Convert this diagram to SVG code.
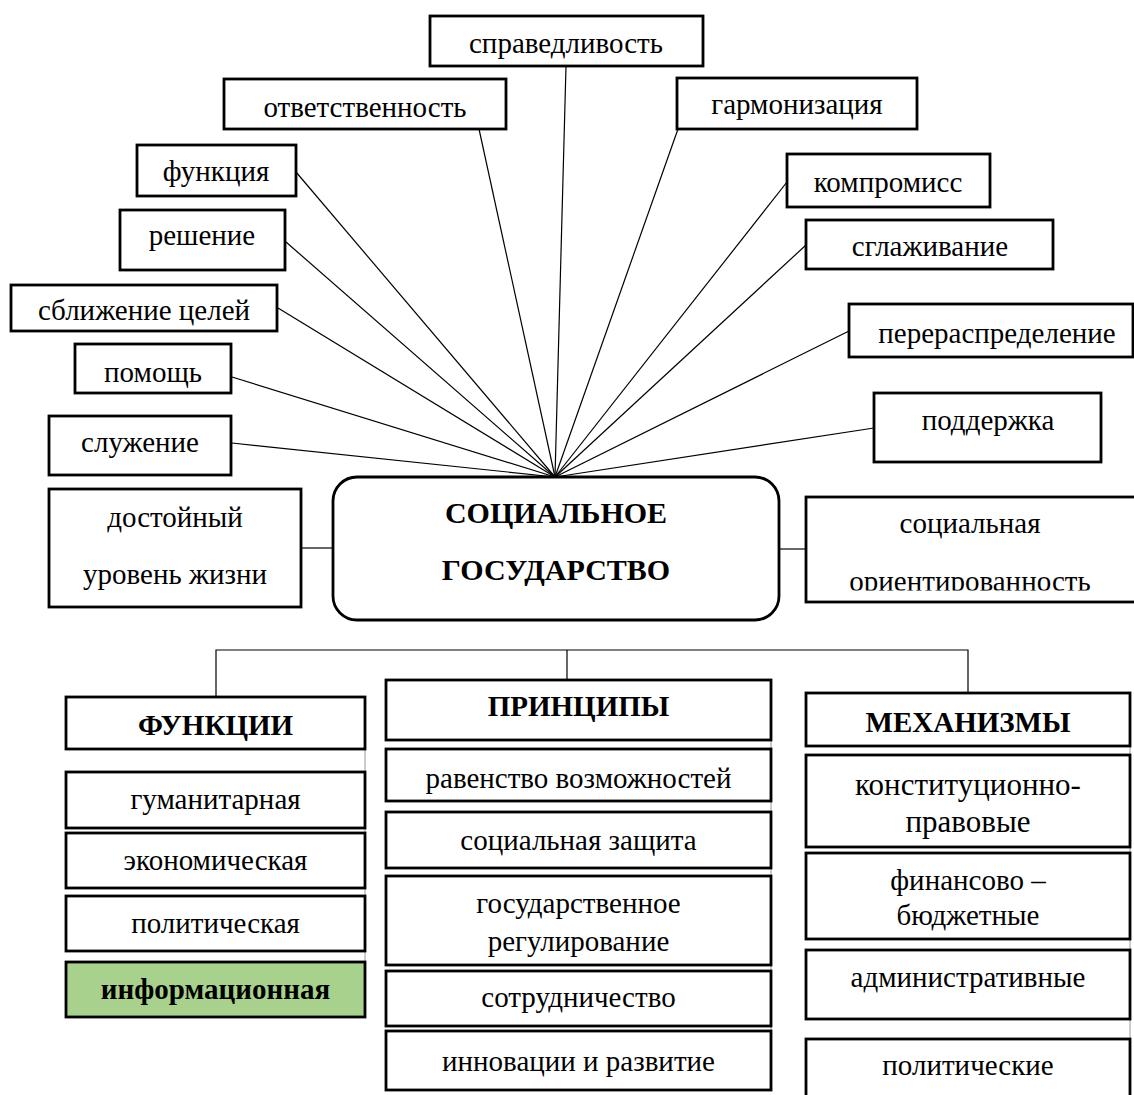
<svg xmlns="http://www.w3.org/2000/svg" width="1134" height="1095" viewBox="0 0 1134 1095">
<style>
.b{fill:#fff;stroke:#000;stroke-width:2.8}
.t{font-family:"Liberation Serif","Times New Roman",serif;font-size:29px;fill:#000;text-anchor:middle}
.tb{font-family:"Liberation Serif","Times New Roman",serif;font-size:29px;font-weight:bold;fill:#000;text-anchor:middle}
.c{stroke:#000;stroke-width:1.2;fill:none}
.g{stroke:#999;stroke-width:1;fill:none}
</style>
<defs>
<clipPath id="clipOr"><rect x="806" y="497" width="328" height="93.5"/></clipPath>
</defs>
<g id="connectors">
<line class="c" x1="555" y1="477" x2="566" y2="66"/>
<line class="c" x1="555" y1="477" x2="479" y2="129"/>
<line class="c" x1="555" y1="477" x2="296" y2="172"/>
<line class="c" x1="555" y1="477" x2="286" y2="242"/>
<line class="c" x1="555" y1="477" x2="278" y2="308"/>
<line class="c" x1="555" y1="477" x2="232" y2="377"/>
<line class="c" x1="555" y1="477" x2="232" y2="443"/>
<line class="c" x1="555" y1="477" x2="678" y2="129"/>
<line class="c" x1="555" y1="477" x2="787" y2="182"/>
<line class="c" x1="555" y1="477" x2="806" y2="245"/>
<line class="c" x1="555" y1="477" x2="849" y2="331"/>
<line class="c" x1="555" y1="477" x2="874" y2="428"/>
<line class="c" x1="301" y1="548" x2="333" y2="548"/>
<line class="c" x1="779" y1="549" x2="806" y2="549"/>
<polyline class="c" points="216,697 216,650 968,650 968,693"/>
<line class="c" x1="567" y1="650" x2="567" y2="680"/>
<line class="g" x1="365" y1="697" x2="365" y2="1017"/>
<line class="g" x1="771" y1="680" x2="771" y2="1090"/>
<line class="g" x1="1130" y1="693" x2="1130" y2="1095"/>
</g>
<g id="n-spravedlivost"><rect class="b" x="430" y="16" width="273" height="50"/><text class="t" x="566" y="53">справедливость</text></g>
<g id="n-otvetstvennost"><rect class="b" x="224" y="79" width="282" height="50"/><text class="t" x="365" y="117">ответственность</text></g>
<g id="n-garmonizaciya"><rect class="b" x="677" y="78" width="240" height="51"/><text class="t" x="797" y="114">гармонизация</text></g>
<g id="n-funkciya"><rect class="b" x="137" y="145" width="159" height="51"/><text class="t" x="216" y="181">функция</text></g>
<g id="n-kompromiss"><rect class="b" x="787" y="154" width="203" height="53"/><text class="t" x="888" y="192">компромисс</text></g>
<g id="n-reshenie"><rect class="b" x="120" y="210" width="165" height="60"/><text class="t" x="202" y="245">решение</text></g>
<g id="n-sglazhivanie"><rect class="b" x="806" y="220" width="247" height="49"/><text class="t" x="930" y="256">сглаживание</text></g>
<g id="n-sblizhenie"><rect class="b" x="11" y="285" width="266" height="46"/><text class="t" x="144" y="320">сближение целей</text></g>
<g id="n-pereraspredelenie"><rect class="b" x="849" y="304" width="284" height="53"/><text class="t" x="997" y="343">перераспределение</text></g>
<g id="n-pomosch"><rect class="b" x="75" y="344" width="156" height="49"/><text class="t" x="153" y="382">помощь</text></g>
<g id="n-podderzhka"><rect class="b" x="874" y="393" width="227" height="69"/><text class="t" x="988" y="430">поддержка</text></g>
<g id="n-sluzhenie"><rect class="b" x="49" y="416" width="182" height="59"/><text class="t" x="140" y="452">служение</text></g>
<g id="n-center"><rect class="b" x="333" y="477" width="446" height="143" rx="24" ry="24"/><text class="tb" x="556" y="523" style="font-size:30px">СОЦИАЛЬНОЕ</text><text class="tb" x="556" y="580" style="font-size:30px">ГОСУДАРСТВО</text></g>
<g id="n-dostoyny"><rect class="b" x="49" y="489" width="252" height="118"/><text class="t" x="175" y="527">достойный</text><text class="t" x="175" y="584">уровень жизни</text></g>
<g id="n-orientirovannost"><rect class="b" x="806" y="497" width="330" height="105"/><text class="t" x="970" y="533">социальная</text><text class="t" x="970" y="591" clip-path="url(#clipOr)">ориентированность</text></g>
<g id="n-funkcii"><rect class="b" x="66" y="697" width="299" height="52"/><text class="tb" x="215.5" y="735">ФУНКЦИИ</text></g>
<g id="n-gumanitarnaya"><rect class="b" x="66" y="772" width="299" height="56"/><text class="t" x="215.5" y="809">гуманитарная</text></g>
<g id="n-ekonomicheskaya"><rect class="b" x="66" y="833" width="299" height="55"/><text class="t" x="215.5" y="870">экономическая</text></g>
<g id="n-politicheskaya"><rect class="b" x="66" y="896" width="299" height="55"/><text class="t" x="215.5" y="933">политическая</text></g>
<g id="n-informacionnaya"><rect class="b" x="66" y="962" width="299" height="55" style="fill:#a9d18e"/><text class="tb" x="215.5" y="999">информационная</text></g>
<g id="n-principy"><rect class="b" x="386" y="680" width="385" height="60"/><text class="tb" x="578.5" y="716">ПРИНЦИПЫ</text></g>
<g id="n-ravenstvo"><rect class="b" x="386" y="749" width="385" height="52"/><text class="t" x="578.5" y="788">равенство возможностей</text></g>
<g id="n-soczaschita"><rect class="b" x="386" y="812" width="385" height="56"/><text class="t" x="578.5" y="850">социальная защита</text></g>
<g id="n-regulirovanie"><rect class="b" x="386" y="876" width="385" height="89"/><text class="t" x="578.5" y="913">государственное</text><text class="t" x="578.5" y="951">регулирование</text></g>
<g id="n-sotrudnichestvo"><rect class="b" x="386" y="971" width="385" height="55"/><text class="t" x="578.5" y="1007">сотрудничество</text></g>
<g id="n-innovacii"><rect class="b" x="386" y="1031" width="385" height="59"/><text class="t" x="578.5" y="1071">инновации и развитие</text></g>
<g id="n-mehanizmy"><rect class="b" x="806" y="693" width="324" height="53"/><text class="tb" x="968" y="732">МЕХАНИЗМЫ</text></g>
<g id="n-konstitucionno"><rect class="b" x="806" y="755" width="324" height="92"/><text class="t" x="968" y="795" style="font-size:31px">конституционно-</text><text class="t" x="968" y="832" style="font-size:31px">правовые</text></g>
<g id="n-finansovo"><rect class="b" x="806" y="853" width="324" height="86"/><text class="t" x="968" y="890">финансово –</text><text class="t" x="968" y="925">бюджетные</text></g>
<g id="n-administrativnye"><rect class="b" x="806" y="950" width="324" height="69"/><text class="t" x="968" y="987">административные</text></g>
<g id="n-politicheskie"><rect class="b" x="806" y="1039" width="324" height="70"/><text class="t" x="968" y="1075">политические</text></g>
</svg>
